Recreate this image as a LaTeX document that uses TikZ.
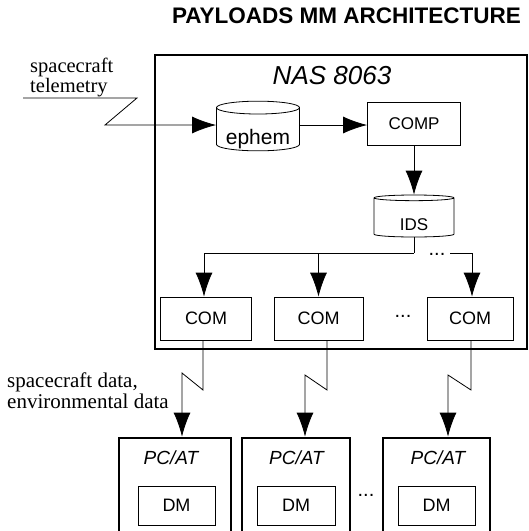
\documentclass[tikz,border=0pt]{standalone}
\usepackage{fontspec}
\setmainfont{Liberation Serif}
\setsansfont{Liberation Sans}
\usetikzlibrary{shapes.geometric,arrows.meta}

\tikzset{
	box/.style={draw, line width=0.8pt, inner sep=0pt, font=\sffamily\fontsize{18}{18}\selectfont},
	heavy/.style={draw, line width=2.8pt, inner sep=0pt},
	db/.style={cylinder, shape border rotate=90, aspect=0.2, draw, line width=0.8pt, inner sep=0pt, anchor=shape center, text depth=0pt},
	wire/.style={line width=0.8pt},
	arr/.style={line width=0.8pt, -{Latex[length=24pt,width=17pt]}},
	pclbl/.style={font=\sffamily\itshape\fontsize{19}{19}\selectfont},
	dots/.style={font=\sffamily\fontsize{20}{20}\selectfont, inner sep=0pt},
	note/.style={align=left, anchor=north west, inner sep=0pt, font=\fontsize{20.5}{17}\selectfont}
}

\begin{document}
	\begin{tikzpicture}[x=1pt, y=-1pt]
		\useasboundingbox (0,0) rectangle (529,531);
		\clip (0,0) rectangle (529,531);
		
		\node[font=\sffamily\bfseries\fontsize{22.5}{23}\selectfont] (title) at (346.5,16) {PAYLOADS MM ARCHITECTURE};
		
		% host
		\node[heavy, minimum width=372pt, minimum height=294pt] (nas) at (341,202) {};
		\node[font=\sffamily\itshape\fontsize{26}{26}\selectfont] (nasname) at (332,76) {NAS 8063};
		\node[db, minimum width=83pt, minimum height=48pt, text height=30pt, font=\sffamily\fontsize{21}{21}\selectfont] (ephem) at (258,126) {ephem};
		\node[box, font=\sffamily\fontsize{17}{17}\selectfont, minimum width=93pt, minimum height=43pt] (comp) at (414,124) {COMP};
		\node[db, minimum width=80pt, minimum height=42pt, text height=26pt, font=\sffamily\fontsize{17}{17}\selectfont] (ids) at (414,216) {IDS};
		\node[box, minimum width=91pt, minimum height=43pt] (com1) at (206,318.5) {COM};
		\node[box, minimum width=89pt, minimum height=43pt] (com2) at (318.5,318.5) {COM};
		\node[box, minimum width=86pt, minimum height=43pt] (com3) at (470,318.5) {COM};
		\node[dots] (comdots) at (403,316) {...};
		
		% telemetry in
		\node[note] (teltext) at (30,58) {spacecraft\\telemetry};
		\coordinate (tel1) at (23,98);
		\coordinate (tel2) at (137,98);
		\coordinate (tel3) at (105,125);
		\draw[arr] (tel1) -- (tel2) -- (tel3) -- (tel3 -| ephem.west);
		\draw[arr] (ephem.east |- tel3) -- (tel3 -| comp.west);
		\draw[arr] (comp) -- (comp |- ids.north);
		
		% bus
		\coordinate (bus) at (414,253);
		\coordinate (busl) at (204,253);
		\coordinate (busr) at (472,253);
		\draw[wire] (ids.south) -- (bus);
		\draw[wire] (busl) -- (bus);
		\draw[wire] (busr) -- ++(-22,0);
		\node[dots] (busdots) at (437,254) {...};
		\draw[arr] (busl) -- (busl |- com1.north);
		\draw[arr] (com2.north |- bus) -- (com2.north);
		\draw[arr] (busr) -- (busr |- com3.north);
		
		% PCs
		\node[heavy, minimum width=112pt, minimum height=162pt] (pc1) at (175,519) {};
		\node[heavy, minimum width=108pt, minimum height=162pt] (pc2) at (296,519) {};
		\node[heavy, minimum width=107pt, minimum height=162pt] (pc3) at (436.5,519) {};
		\node[pclbl] (pc1name) at (171,458) {PC/AT};
		\node[pclbl] (pc2name) at (296.5,458) {PC/AT};
		\node[pclbl] (pc3name) at (438,458) {PC/AT};
		\node[box, minimum width=77pt, minimum height=39pt] (dm1) at (176.5,505.5) {DM};
		\node[box, minimum width=78pt, minimum height=39pt] (dm2) at (296,505.5) {DM};
		\node[box, minimum width=77pt, minimum height=39pt] (dm3) at (436.5,505.5) {DM};
		\node[dots] (pcdots) at (366,495) {...};
		
		% links to the PCs
		\node[note, font=\fontsize{21}{17}\selectfont] (datatext) at (7,373) {spacecraft data,\\environmental data};
		\coordinate (l1a) at (203,390);
		\coordinate (l1b) at (182,373);
		\coordinate (l2a) at (327,390);
		\coordinate (l2b) at (305,375);
		\coordinate (l3a) at (471,390);
		\coordinate (l3b) at (448,375);
		\draw[arr] (com1.south -| l1a) -- (l1a) -- (l1b) -- (l1b |- pc1.north);
		\draw[arr] (com2.south -| l2a) -- (l2a) -- (l2b) -- (l2b |- pc2.north);
		\draw[arr] (com3.south -| l3a) -- (l3a) -- (l3b) -- (l3b |- pc3.north);
	\end{tikzpicture}
\end{document}
